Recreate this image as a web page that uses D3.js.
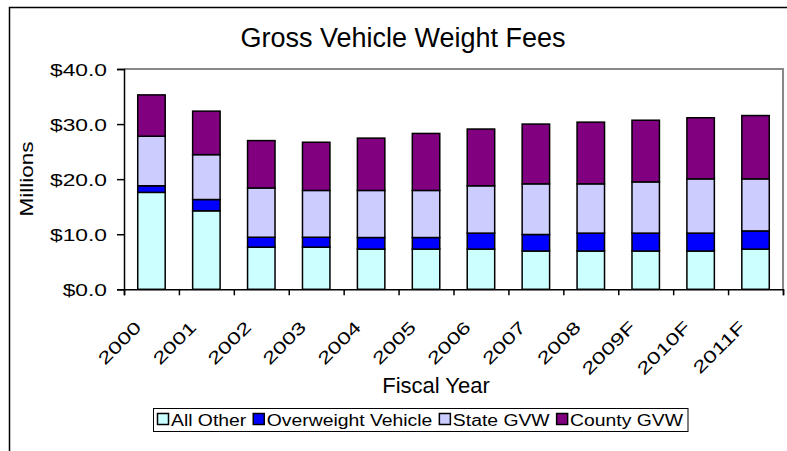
<!DOCTYPE html>
<html>
<head>
<meta charset="utf-8">
<script src="https://cdn.jsdelivr.net/npm/d3@7"></script>
<style>
  html, body { margin: 0; padding: 0; background: #fff; }
  svg { display: block; }
  text { font-family: "Liberation Sans", Arial, sans-serif; fill: #000; }
</style>
</head>
<body>
<div id="chart"></div>
<script>
// ---- data ----
const categories = ["2000", "2001", "2002", "2003", "2004", "2005", "2006", "2007", "2008", "2009F", "2010F", "2011F"];
const allOther   = [17.6, 14.25, 7.65, 7.65, 7.3, 7.3, 7.3, 6.95, 6.95, 6.95, 6.95, 7.3];
const overweight = [1.2, 2.05, 1.8, 1.8, 2.1, 2.1, 2.9, 3.0, 3.25, 3.25, 3.25, 3.3];
const stateGVW   = [9.0, 8.15, 8.95, 8.5, 8.55, 8.55, 8.6, 9.2, 8.95, 9.3, 9.85, 9.45];
const countyGVW  = [7.5, 7.9, 8.6, 8.75, 9.5, 10.35, 10.3, 10.85, 11.2, 11.2, 11.1, 11.5];
const seriesNames = ["All Other", "Overweight Vehicle", "State GVW", "County GVW"];
const seriesColors = ["#CCFFFF", "#0000FF", "#CCCCFF", "#800080"];
const yTicks = [0, 10, 20, 30, 40];
const titleText = "Gross Vehicle Weight Fees";
const xTitle = "Fiscal Year";
const yTitle = "Millions";

// ---- layout ----
const W = 787, H = 451;
const plot = { left: 124, right: 783, top: 69, bottom: 289.3 };

const svg = d3.select("#chart").append("svg").attr("width", W).attr("height", H);

function stretch(sel, f) {
  sel.each(function () {
    const len = this.getComputedTextLength();
    d3.select(this).attr("textLength", len * f).attr("lengthAdjust", "spacingAndGlyphs");
  });
}

// chart outer border
svg.append("rect").attr("x", 9.5).attr("y", 7.5).attr("width", 900).attr("height", 600)
  .attr("fill", "#fff").attr("stroke", "#000").attr("stroke-width", 1.5);

// scales
const x = d3.scaleBand().domain(categories).range([plot.left, plot.right])
  .paddingInner(0.5).paddingOuter(0.25);
const y = d3.scaleLinear().domain([0, 40]).range([plot.bottom, plot.top]);
const xb = d3.scaleLinear().domain([0, categories.length]).range([plot.left, plot.right]);

// plot area border (top/right gray)
svg.append("path")
  .attr("d", `M${plot.left},${y(40)}H${plot.right}V${plot.bottom}`)
  .attr("fill", "none").attr("stroke", "#888").attr("stroke-width", 2);

// stacked data
const table = categories.map((c, i) => ({
  cat: c,
  [seriesNames[0]]: allOther[i],
  [seriesNames[1]]: overweight[i],
  [seriesNames[2]]: stateGVW[i],
  [seriesNames[3]]: countyGVW[i]
}));
const stacked = d3.stack().keys(seriesNames)(table);

svg.append("g").selectAll("g").data(stacked).join("g")
  .attr("fill", (d, i) => seriesColors[i])
  .selectAll("rect").data(d => d).join("rect")
  .attr("x", d => x(d.data.cat))
  .attr("width", x.bandwidth())
  .attr("y", d => y(d[1]))
  .attr("height", d => y(d[0]) - y(d[1]))
  .attr("stroke", "#000").attr("stroke-width", 1.5);

// y axis
const yAxis = svg.append("g").attr("transform", `translate(${plot.left},0)`)
  .call(d3.axisLeft(y).tickValues(yTicks).tickSize(7).tickPadding(10)
    .tickFormat(d => "$" + d.toFixed(1)));
yAxis.select(".domain").attr("stroke", "#000").attr("stroke-width", 1.5);
yAxis.selectAll(".tick line").attr("stroke", "#000").attr("stroke-width", 1.5);
yAxis.selectAll(".tick text").attr("font-size", 16.5).attr("dy", "0.37em")
  .attr("font-family", "Liberation Sans, Arial, sans-serif").attr("fill", "#000");
stretch(yAxis.selectAll(".tick text"), 1.38);

// x axis
const xAxis = svg.append("g").attr("transform", `translate(0,${plot.bottom})`)
  .call(d3.axisBottom(xb).tickValues(d3.range(categories.length + 1)).tickSize(6).tickFormat(""));
xAxis.select(".domain").attr("stroke", "#000").attr("stroke-width", 1.5);
xAxis.selectAll(".tick line").attr("stroke", "#000").attr("stroke-width", 1.5);

const xl = svg.append("g").selectAll("text").data(categories).join("text")
  .attr("transform", d => `translate(${x(d) + x.bandwidth() / 2 - 9},${plot.bottom + 39}) rotate(-45)`)
  .attr("text-anchor", "end").attr("font-size", 17)
  .text(d => d);
stretch(xl, 1.4);

// title
svg.append("text").attr("x", 403).attr("y", 47).attr("text-anchor", "middle")
  .attr("font-size", 27).text(titleText);

// axis titles
svg.append("text").attr("x", 436).attr("y", 393).attr("text-anchor", "middle")
  .attr("font-size", 22).text(xTitle);
const yt = svg.append("text").attr("transform", "translate(33,179) rotate(-90)")
  .attr("text-anchor", "middle").attr("font-size", 18).text(yTitle);
stretch(yt, 1.25);

// legend
const legend = svg.append("g");
const legBox = legend.append("rect").attr("x", 153.5).attr("y", 408.5).attr("height", 23)
  .attr("fill", "#fff").attr("stroke", "#000").attr("stroke-width", 1);
const legTexts = seriesNames.map(name =>
  legend.append("text").attr("y", 426).attr("font-size", 16).text(name));
const natural = legTexts.map(t => t.node().getComputedTextLength());
const legStart = 157.5, legEnd = 683, sq = 11, sqGap = 2.5, itemGap = 7;
const f = (legEnd - legStart - seriesNames.length * (sq + sqGap) - (seriesNames.length - 1) * itemGap) / d3.sum(natural);
let cx = legStart;
seriesNames.forEach((name, i) => {
  legend.append("rect").attr("x", cx).attr("y", 413.5).attr("width", sq).attr("height", sq)
    .attr("fill", seriesColors[i]).attr("stroke", "#000").attr("stroke-width", 1.5);
  const len = natural[i] * f;
  legTexts[i].attr("x", cx + sq + sqGap).attr("textLength", len).attr("lengthAdjust", "spacingAndGlyphs");
  cx += sq + sqGap + len + itemGap;
});
legBox.attr("width", 688 - 153.5);
</script>
</body>
</html>
